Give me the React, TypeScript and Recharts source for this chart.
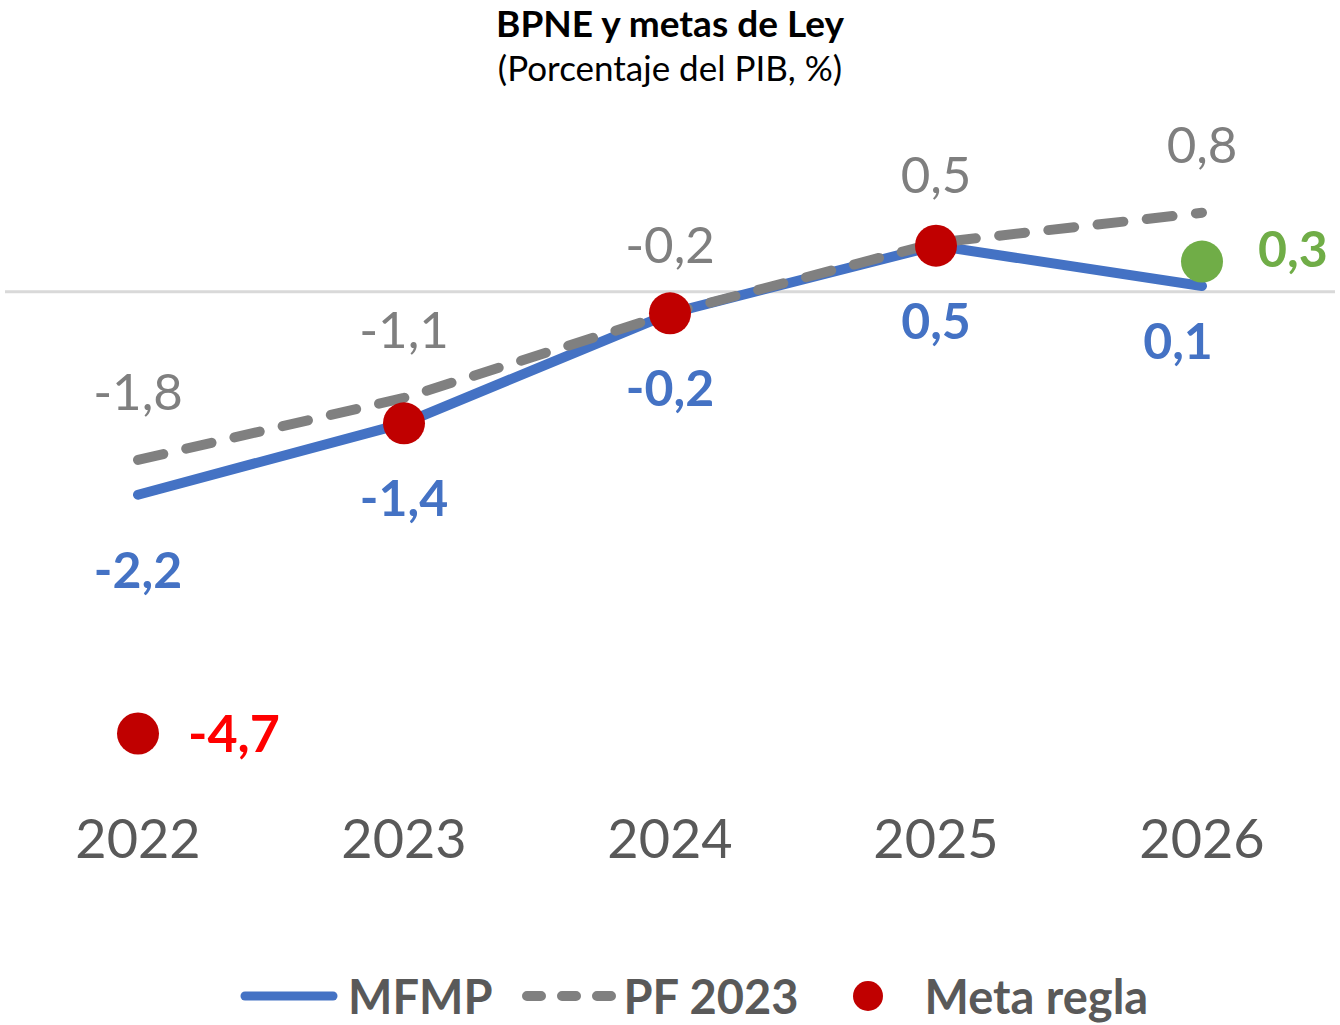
import React from 'react';
import { LineChart, Line, XAxis, YAxis, ReferenceLine, LabelList, Legend } from 'recharts';

// ---- Data ----
const years = ['2022', '2023', '2024', '2025', '2026'];
const mfmp = [-2.16, -1.4, -0.23, 0.49, 0.06];
const pf2023 = [-1.79, -1.13, -0.23, 0.52, 0.84];
const metaRegla = [-4.7, -1.4, -0.23, 0.49, null];
const meta2026 = [null, null, null, null, 0.32];

const legendItems = [
  { name: 'MFMP', kind: 'line', color: '#4472c4' },
  { name: 'PF 2023', kind: 'dash', color: '#808080' },
  { name: 'Meta regla', kind: 'dot', color: '#c00000' },
];

const data = years.map((y, i) => ({
  year: y,
  mfmp: mfmp[i],
  pf: pf2023[i],
  meta: metaRegla[i],
  meta26: meta2026[i],
}));

const FONT = 'Lato, "Open Sans", sans-serif';
const fmt = (v: number) => v.toFixed(1).replace('.', ',');

const px = (p: any) => (p.x ?? p.viewBox?.x) as number;
const py = (p: any) => (p.y ?? p.viewBox?.y) as number;

const grayLabel = (p: any) => {
  if (p.value == null) return null;
  return (
    <text x={px(p)} y={py(p) - 50} textAnchor="middle" fontFamily={FONT} fontSize={51} fill="#7f7f7f">
      {fmt(p.value)}
    </text>
  );
};

const blueLabel = (p: any) => {
  if (p.value == null) return null;
  const last = p.index === years.length - 1;
  return (
    <text
      x={px(p) + (last ? -24 : 0)}
      y={py(p) + (last ? 73 : 93)}
      textAnchor="middle"
      fontFamily={FONT}
      fontSize={50}
      fontWeight={700}
      fill="#4472c4"
    >
      {fmt(p.value)}
    </text>
  );
};

const redLabel = (p: any) => {
  if (p.value == null || p.index !== 0) return null;
  return (
    <text x={px(p) + 50} y={py(p) + 18} textAnchor="start" fontFamily={FONT} fontSize={52} fontWeight={700} fill="#ff0000">
      {fmt(p.value)}
    </text>
  );
};

const greenLabel = (p: any) => {
  if (p.value == null) return null;
  return (
    <text x={px(p) + 56} y={py(p) + 5} textAnchor="start" fontFamily={FONT} fontSize={50} fontWeight={700} fill="#70ad47">
      {fmt(p.value)}
    </text>
  );
};

const renderLegend = () => (
  <div
    style={{
      height: 60,
      paddingTop: 8,
      boxSizing: 'border-box',
      fontFamily: FONT,
      fontWeight: 700,
      fontSize: 47,
      color: '#595959',
    }}
  >
    <div style={{ display: 'flex', alignItems: 'center', paddingLeft: 235, height: 46, lineHeight: '46px' }}>
      {legendItems.map((it) => (
        <React.Fragment key={it.name}>
          {it.kind === 'line' && (
            <svg width={98} height={20} style={{ marginRight: 10 }}>
              <line x1={5} y1={10} x2={93} y2={10} stroke={it.color} strokeWidth={9} strokeLinecap="round" />
            </svg>
          )}
          {it.kind === 'dash' && (
            <svg width={94} height={20} style={{ marginLeft: 29, marginRight: 8 }}>
              <line x1={5} y1={10} x2={89} y2={10} stroke={it.color} strokeWidth={10} strokeDasharray="14 21" strokeLinecap="round" />
            </svg>
          )}
          {it.kind === 'dot' && (
            <svg width={30} height={30} style={{ marginLeft: 54, marginRight: 42 }}>
              <circle cx={15} cy={15} r={15} fill={it.color} />
            </svg>
          )}
          <span style={{ whiteSpace: 'nowrap' }}>{it.name}</span>
        </React.Fragment>
      ))}
    </div>
  </div>
);

export default function App() {
  return (
    <div style={{ position: 'absolute', left: 0, top: 0, width: 1340, height: 1025, background: '#fff', overflow: 'hidden' }}>
      <div
        style={{
          position: 'absolute',
          left: 0,
          top: 0,
          width: 1340,
          textAlign: 'center',
          fontFamily: FONT,
          fontWeight: 700,
          fontSize: 37,
          color: '#000',
        }}
      >
        BPNE y metas de Ley
      </div>
      <div
        style={{
          position: 'absolute',
          left: 0,
          top: 50,
          width: 1340,
          textAlign: 'center',
          fontFamily: FONT,
          fontSize: 35,
          lineHeight: '35px',
          color: '#000',
        }}
      >
        (Porcentaje del PIB, %)
      </div>
      <LineChart width={1340} height={1025} data={data} margin={{ top: 122.5, right: 5, left: 5, bottom: 0 }}>
        <XAxis
          dataKey="year"
          axisLine={false}
          tickLine={false}
          tickSize={0}
          tickMargin={39}
          height={184.5}
          interval={0}
          padding={{ left: 133, right: 133 }}
          tick={{ fontFamily: FONT, fontSize: 54, fill: '#595959' }}
        />
        <YAxis hide type="number" domain={[-5.2, 1.8]} />
        <ReferenceLine y={0} stroke="#d9d9d9" strokeWidth={3} />
        <Legend verticalAlign="bottom" content={renderLegend} />
        <Line
          dataKey="mfmp"
          name="MFMP"
          stroke="#4472c4"
          strokeWidth={10}
          strokeLinecap="round"
          strokeLinejoin="round"
          dot={false}
          activeDot={false}
          isAnimationActive={false}
        >
          <LabelList dataKey="mfmp" content={blueLabel} />
        </Line>
        <Line
          dataKey="pf"
          name="PF 2023"
          stroke="#808080"
          strokeWidth={10}
          strokeDasharray="26 23.5"
          strokeLinecap="round"
          strokeLinejoin="round"
          dot={false}
          activeDot={false}
          isAnimationActive={false}
        >
          <LabelList dataKey="pf" content={grayLabel} />
        </Line>
        <Line
          dataKey="meta"
          name="Meta regla"
          stroke="none"
          strokeWidth={0}
          dot={{ r: 21, fill: '#c00000', stroke: 'none', strokeWidth: 0 }}
          activeDot={false}
          isAnimationActive={false}
        >
          <LabelList dataKey="meta" content={redLabel} />
        </Line>
        <Line
          dataKey="meta26"
          name="Meta 2026"
          legendType="none"
          stroke="none"
          strokeWidth={0}
          dot={{ r: 21, fill: '#70ad47', stroke: 'none', strokeWidth: 0 }}
          activeDot={false}
          isAnimationActive={false}
        >
          <LabelList dataKey="meta26" content={greenLabel} />
        </Line>
      </LineChart>
    </div>
  );
}
